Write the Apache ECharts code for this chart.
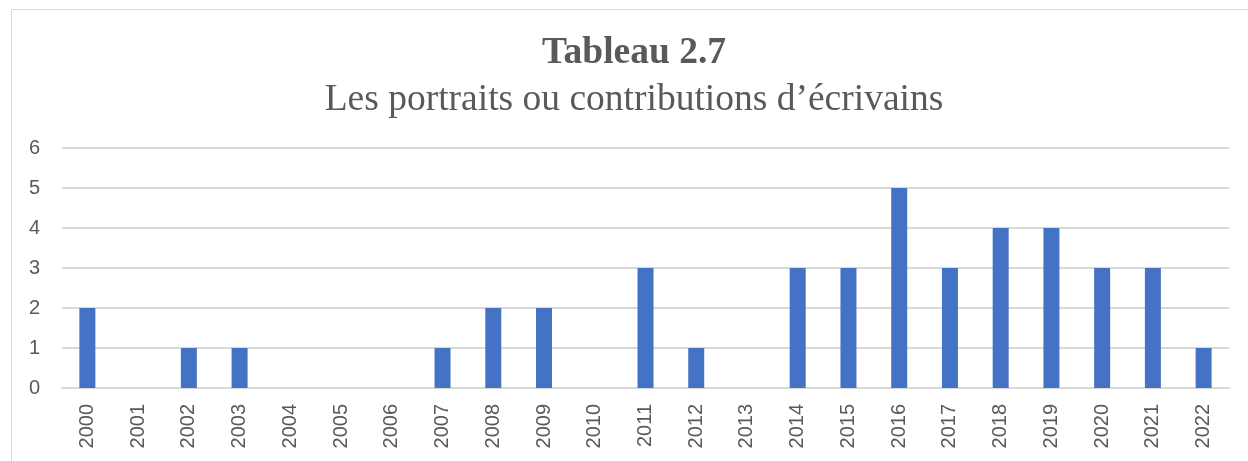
<!DOCTYPE html>
<html>
<head>
<meta charset="utf-8">
<script src="https://cdn.jsdelivr.net/npm/echarts@6/dist/echarts.min.js"></script>
<style>
    html, body {margin:0;padding:0;background:#fff;}
    #chart {width:1248px;height:461px;}
</style>
</head>
<body>
<div id="chart"></div>
<script>
    var years = ['2000','2001','2002','2003','2004','2005','2006','2007','2008','2009','2010','2011',
                 '2012','2013','2014','2015','2016','2017','2018','2019','2020','2021','2022'];
    var counts = [2,0,1,1,0,0,0,1,2,2,0,3,1,0,3,3,5,3,4,4,3,3,1];
    var titleText = 'Tableau 2.7';
    var subtitleText = 'Les portraits ou contributions d\u2019écrivains';

    var chart = echarts.init(document.getElementById('chart'));
    var option = {
        animation: false,
        graphic: [{
            type: 'rect',
            shape: {x: 11.5, y: 9.5, width: 1400, height: 600},
            style: {fill: 'none', stroke: '#d9d9d9', lineWidth: 1}
        }],
        title: {
            text: titleText,
            subtext: subtitleText,
            left: 629,
            textAlign: 'center',
            top: 29,
            itemGap: 9,
            textStyle: {
                fontFamily: 'Liberation Serif',
                fontWeight: 'bold',
                fontSize: 37.5,
                lineHeight: 38,
                color: '#595959'
            },
            subtextStyle: {
                fontFamily: 'Liberation Serif',
                fontSize: 37.5,
                lineHeight: 38,
                color: '#595959'
            }
        },
        grid: {left: 62, right: 19, top: 148, bottom: 73},
        xAxis: {
            type: 'category',
            data: years,
            axisLine: {lineStyle: {color: '#d9d9d9', width: 2}},
            axisTick: {show: false},
            axisLabel: {
                rotate: 90,
                margin: 16,
                interval: 0,
                fontFamily: 'Liberation Sans',
                fontSize: 20,
                color: '#595959'
            }
        },
        yAxis: {
            type: 'value',
            min: 0,
            max: 6,
            interval: 1,
            axisLine: {show: false},
            axisTick: {show: false},
            splitLine: {lineStyle: {color: '#d9d9d9', width: 2}},
            axisLabel: {
                margin: 22,
                fontFamily: 'Liberation Sans',
                fontSize: 20,
                color: '#595959'
            }
        },
        series: [{
            type: 'bar',
            data: counts,
            barWidth: 16,
            itemStyle: {color: '#4472c4'}
        }]
    };
    chart.setOption(option);
</script>
</body>
</html>
